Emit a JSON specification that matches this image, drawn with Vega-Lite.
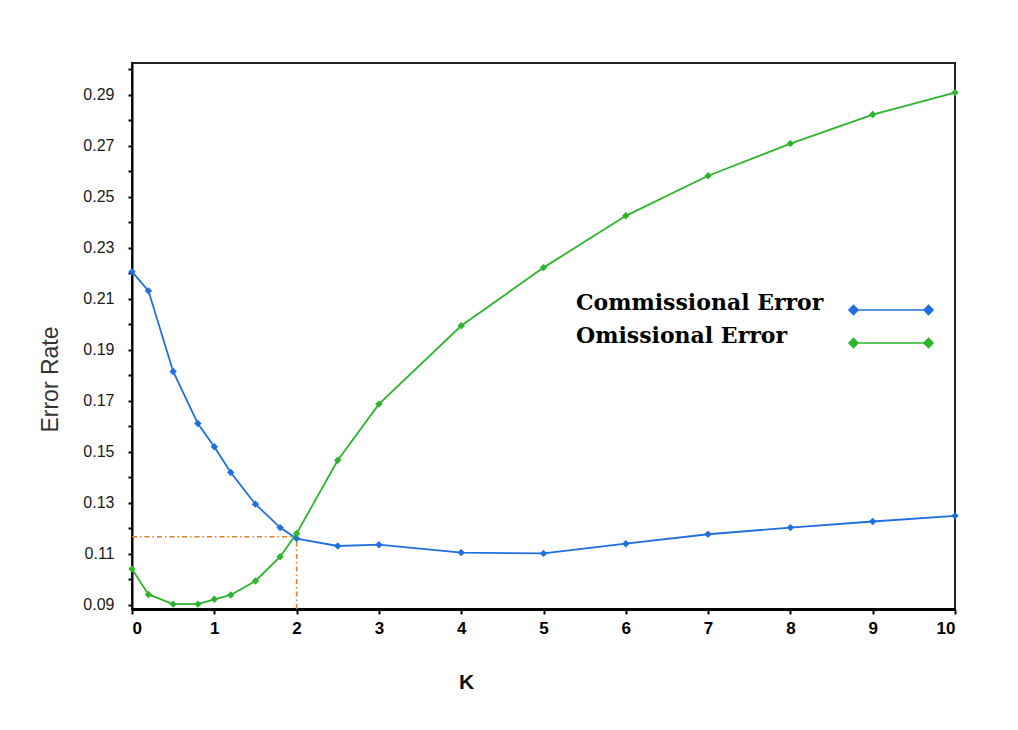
{
  "$schema": "https://vega.github.io/schema/vega-lite/v6.json",
  "autosize": {"type": "none"},
  "padding": {"left": 132, "top": 63, "right": 63, "bottom": 122},
  "width": 823,
  "height": 546,
  "background": "white",
  "config": {
    "view": {"stroke": "#222", "strokeWidth": 2},
    "font": "Liberation Sans"
  },
  "datasets": {
    "series": [
      {"k": 0, "rate": 0.2206, "series": "Commissional Error"},
      {"k": 0.2, "rate": 0.2131, "series": "Commissional Error"},
      {"k": 0.5, "rate": 0.1815, "series": "Commissional Error"},
      {"k": 0.8, "rate": 0.1611, "series": "Commissional Error"},
      {"k": 1, "rate": 0.152, "series": "Commissional Error"},
      {"k": 1.2, "rate": 0.1419, "series": "Commissional Error"},
      {"k": 1.5, "rate": 0.1295, "series": "Commissional Error"},
      {"k": 1.8, "rate": 0.1203, "series": "Commissional Error"},
      {"k": 2, "rate": 0.116, "series": "Commissional Error"},
      {"k": 2.5, "rate": 0.1131, "series": "Commissional Error"},
      {"k": 3, "rate": 0.1136, "series": "Commissional Error"},
      {"k": 4, "rate": 0.1105, "series": "Commissional Error"},
      {"k": 5, "rate": 0.1102, "series": "Commissional Error"},
      {"k": 6, "rate": 0.114, "series": "Commissional Error"},
      {"k": 7, "rate": 0.1177, "series": "Commissional Error"},
      {"k": 8, "rate": 0.1203, "series": "Commissional Error"},
      {"k": 9, "rate": 0.1227, "series": "Commissional Error"},
      {"k": 10, "rate": 0.1249, "series": "Commissional Error"},
      {"k": 0, "rate": 0.1041, "series": "Omissional Error"},
      {"k": 0.2, "rate": 0.0941, "series": "Omissional Error"},
      {"k": 0.5, "rate": 0.0903, "series": "Omissional Error"},
      {"k": 0.8, "rate": 0.0903, "series": "Omissional Error"},
      {"k": 1, "rate": 0.0922, "series": "Omissional Error"},
      {"k": 1.2, "rate": 0.0939, "series": "Omissional Error"},
      {"k": 1.5, "rate": 0.0994, "series": "Omissional Error"},
      {"k": 1.8, "rate": 0.1089, "series": "Omissional Error"},
      {"k": 2, "rate": 0.118, "series": "Omissional Error"},
      {"k": 2.5, "rate": 0.1467, "series": "Omissional Error"},
      {"k": 3, "rate": 0.1687, "series": "Omissional Error"},
      {"k": 4, "rate": 0.1994, "series": "Omissional Error"},
      {"k": 5, "rate": 0.2222, "series": "Omissional Error"},
      {"k": 6, "rate": 0.2425, "series": "Omissional Error"},
      {"k": 7, "rate": 0.2582, "series": "Omissional Error"},
      {"k": 8, "rate": 0.2708, "series": "Omissional Error"},
      {"k": 9, "rate": 0.2822, "series": "Omissional Error"},
      {"k": 10, "rate": 0.2908, "series": "Omissional Error"}
    ],
    "guides": [
      {"k": 0, "k2": 2, "rate": 0.1167, "rate2": 0.1167},
      {"k": 2, "k2": 2, "rate": 0.0884, "rate2": 0.1167}
    ]
  },
  "encoding": {
    "x": {
      "field": "k",
      "type": "quantitative",
      "scale": {"domain": [0, 10], "nice": false, "zero": false},
      "axis": {
        "title": "K",
        "values": [0, 1, 2, 3, 4, 5, 6, 7, 8, 9, 10],
        "format": "d",
        "grid": false,
        "domainColor": "#000",
        "domainWidth": 3,
        "tickColor": "#000",
        "tickWidth": 2,
        "tickSize": 5,
        "labelFont": "Liberation Sans",
        "labelFontSize": 17,
        "labelFontWeight": "bold",
        "labelColor": "#000",
        "labelPadding": 6,
        "titleFont": "Liberation Sans",
        "titleFontSize": 21,
        "titleFontWeight": "bold",
        "titleColor": "#111",
        "titleX": 334,
        "titleY": 62,
        "titleBaseline": "top",
        "titleAlign": "center"
      }
    },
    "y": {
      "field": "rate",
      "type": "quantitative",
      "scale": {"domain": [0.0884, 0.3024], "nice": false, "zero": false},
      "axis": {
        "title": "Error Rate",
        "values": [0.09, 0.10, 0.11, 0.12, 0.13, 0.14, 0.15, 0.16, 0.17, 0.18, 0.19, 0.20, 0.21, 0.22, 0.23, 0.24, 0.25, 0.26, 0.27, 0.28, 0.29, 0.30],
        "format": ".2f",
        "labelExpr": "round(datum.value * 100) % 2 == 1 ? datum.label : ''",
        "grid": false,
        "domainColor": "#000",
        "domainWidth": 2,
        "tickColor": "#000",
        "tickWidth": 2,
        "tickSize": 4,
        "labelFont": "Liberation Sans",
        "labelFontSize": 16,
        "labelColor": "#1a1a1a",
        "labelPadding": 14,
        "titleFont": "Liberation Sans",
        "titleFontSize": 23,
        "titleFontWeight": "normal",
        "titleColor": "#333",
        "titleAngle": 270,
        "titleX": -82,
        "titleY": 316,
        "titleAlign": "center",
        "titleBaseline": "middle"
      }
    }
  },
  "layer": [
    {
      "data": {"name": "guides"},
      "mark": {"type": "rule", "color": "#e0812a", "strokeWidth": 1.6, "strokeDash": [5, 3, 1.5, 3]},
      "encoding": {
        "x2": {"field": "k2"},
        "y2": {"field": "rate2"}
      }
    },
    {
      "data": {"name": "series"},
      "mark": {"type": "line", "strokeWidth": 1.8},
      "encoding": {
        "color": {
          "field": "series",
          "type": "nominal",
          "scale": {"domain": ["Commissional Error", "Omissional Error"], "range": ["#1f6fe0", "#2db52d"]},
          "legend": {
            "title": null,
            "orient": "none",
            "legendX": 748,
            "legendY": 236,
            "padding": 0,
            "symbolType": "M-7.5,0L7.5,0M-8.4,0L-7.5,-0.9L-6.6,0L-7.5,0.9ZM6.6,0L7.5,-0.9L8.4,0L7.5,0.9Z",
            "symbolSize": 100,
            "symbolStrokeWidth": 1.6,
            "rowPadding": 7,
            "labelOffset": -326,
            "labelAlign": "left",
            "labelBaseline": "alphabetic",
            "labelFont": "DejaVu Serif",
            "labelFontSize": 22,
            "labelFontWeight": "bold",
            "labelColor": "#000",
            "labelLimit": 400,
            "encode": {
              "symbols": {
                "update": {
                  "fill": {"scale": "color", "field": "value"},
                  "stroke": {"scale": "color", "field": "value"},
                  "fillOpacity": {"value": 1}
                }
              }
            }
          }
        }
      }
    },
    {
      "data": {"name": "series"},
      "mark": {"type": "point", "shape": "diamond", "filled": true, "size": 55, "opacity": 1},
      "encoding": {
        "color": {"field": "series", "type": "nominal", "legend": null}
      }
    }
  ]
}
